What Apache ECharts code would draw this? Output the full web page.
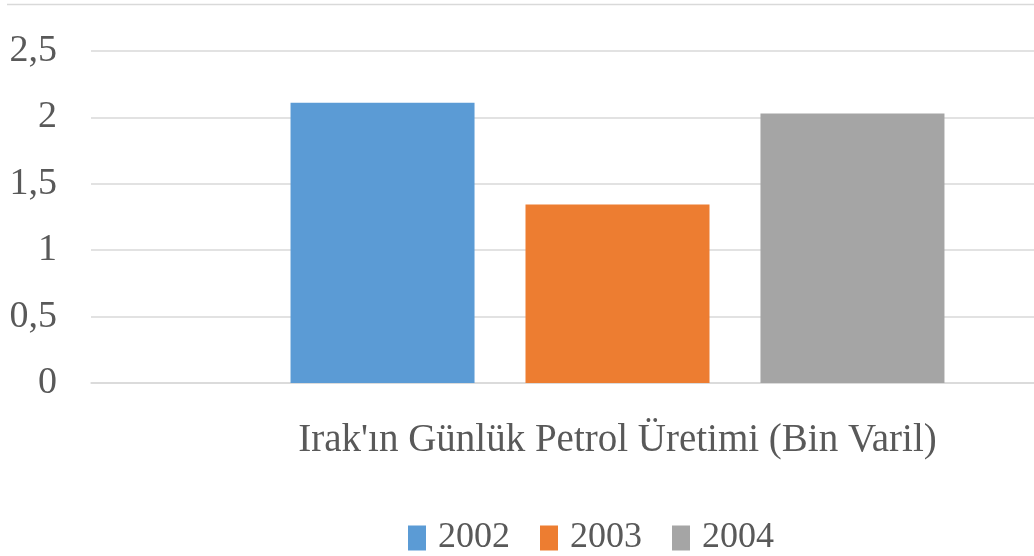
<!DOCTYPE html>
<html>
<head>
<meta charset="utf-8">
<script src="https://cdn.jsdelivr.net/npm/echarts@6/dist/echarts.min.js"></script>
<style>
html,body{margin:0;padding:0;background:#fff;overflow:hidden;width:1034px;height:556px;}
#chart{width:1144px;height:556px;}
</style>
</head>
<body>
<div id="chart"></div>
<script>
const categories = ["Irak'ın Günlük Petrol Üretimi (Bin Varil)"];
const seriesNames = ['2002', '2003', '2004'];
const values2002 = [2.11];
const values2003 = [1.345];
const values2004 = [2.03];
const colors = ['#5b9bd5', '#ed7d31', '#a5a5a5'];

const chart = echarts.init(document.getElementById('chart'), null, {renderer: 'canvas'});
const font = "'Liberation Serif', 'Times New Roman', serif";
const valueSets = [values2002, values2003, values2004];

chart.setOption({
  animation: false,
  backgroundColor: '#fff',
  textStyle: {fontFamily: font},
  graphic: [{
    type: 'line', shape: {x1: 7, y1: 4.5, x2: 1144, y2: 4.5},
    style: {stroke: '#d9d9d9', lineWidth: 1.5}
  }],
  grid: {left: 91, right: 0, top: 51, bottom: 173, containLabel: false},
  legend: {
    data: seriesNames,
    left: 403, top: 515,
    itemWidth: 18, itemHeight: 25, itemGap: 30,
    icon: 'rect',
    textStyle: {fontFamily: font, fontSize: 36, color: '#595959', padding: [0, 0, 0, 7]}
  },
  xAxis: {
    type: 'category',
    data: categories,
    axisLine: {lineStyle: {color: '#d9d9d9', width: 1.5}},
    axisTick: {show: false},
    axisLabel: {fontFamily: font, fontSize: 39, color: '#595959', margin: 38}
  },
  yAxis: {
    type: 'value',
    min: 0, max: 2.5, interval: 0.5,
    axisLine: {show: false},
    axisTick: {show: false},
    splitLine: {lineStyle: {color: '#d9d9d9', width: 1.5}},
    axisLabel: {
      fontFamily: font, fontSize: 38, color: '#595959', margin: 34,
      formatter: v => String(v).replace('.', ',')
    }
  },
  series: seriesNames.map((n, i) => ({
    name: n,
    type: 'bar',
    data: valueSets[i],
    barWidth: 184,
    barGap: '27.7%',
    itemStyle: {color: colors[i]}
  }))
});
</script>
</body>
</html>
